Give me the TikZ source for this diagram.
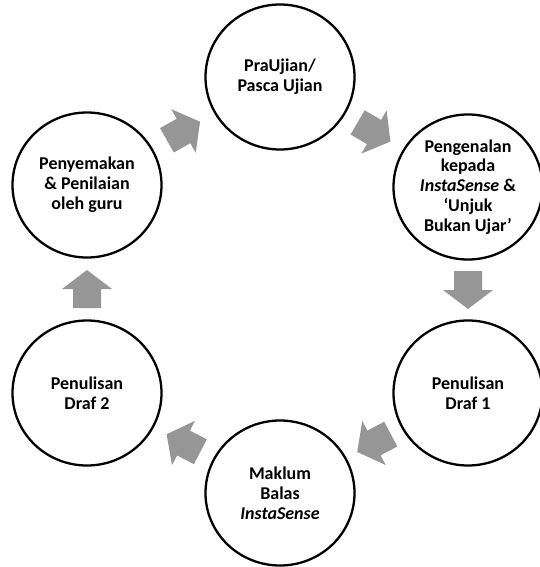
\documentclass[tikz,border=0pt]{standalone}
\usepackage{fontspec}
\setmainfont{Carlito}
\usetikzlibrary{calc,shapes.geometric}
\definecolor{arrowgray}{RGB}{150,150,150}
\tikzset{
  stage/.style={ellipse, draw=black, line width=2.3pt, fill=white,
    minimum width=149pt, minimum height=145pt, inner sep=0pt,
    align=center, font=\fontsize{18}{19.8}\selectfont\bfseries},
  arrowfill/.style={fill=arrowgray}
}
\newcommand\cyclearrow[2]{%
  \pgfmathanglebetweenpoints{\pgfpointanchor{#1}{center}}{\pgfpointanchor{#2}{center}}%
  \let\arrang\pgfmathresult
  \fill[arrowfill, shift={($(#1)!0.5!(#2)$)}, rotate=\arrang]
    (-19,-14) -- (0,-14) -- (0,-25) -- (19,0) -- (0,25) -- (0,14) -- (-19,14) -- cycle;
}
\begin{document}
\begin{tikzpicture}[x=1pt,y=-1pt]
\useasboundingbox (0,0) rectangle (540,567);
\node[stage] (top) at (280,77) {PraUjian/\\Pasca Ujian};
\node[stage] (ru) at (468,187) {Pengenalan\\kepada\\\textit{InstaSense} \&\\‘Unjuk\\Bukan Ujar’};
\node[stage] (rl) at (468,393) {Penulisan\\Draf 1};
\node[stage] (bot) at (280,493) {Maklum\\Balas\\\textit{InstaSense}};
\node[stage] (ll) at (87,393) {Penulisan\\Draf 2};
\node[stage] (lu) at (87,185) {Penyemakan\\\& Penilaian\\oleh guru};
\cyclearrow{top}{ru}
\cyclearrow{ru}{rl}
\cyclearrow{rl}{bot}
\cyclearrow{bot}{ll}
\cyclearrow{ll}{lu}
\cyclearrow{lu}{top}
\end{tikzpicture}
\end{document}
